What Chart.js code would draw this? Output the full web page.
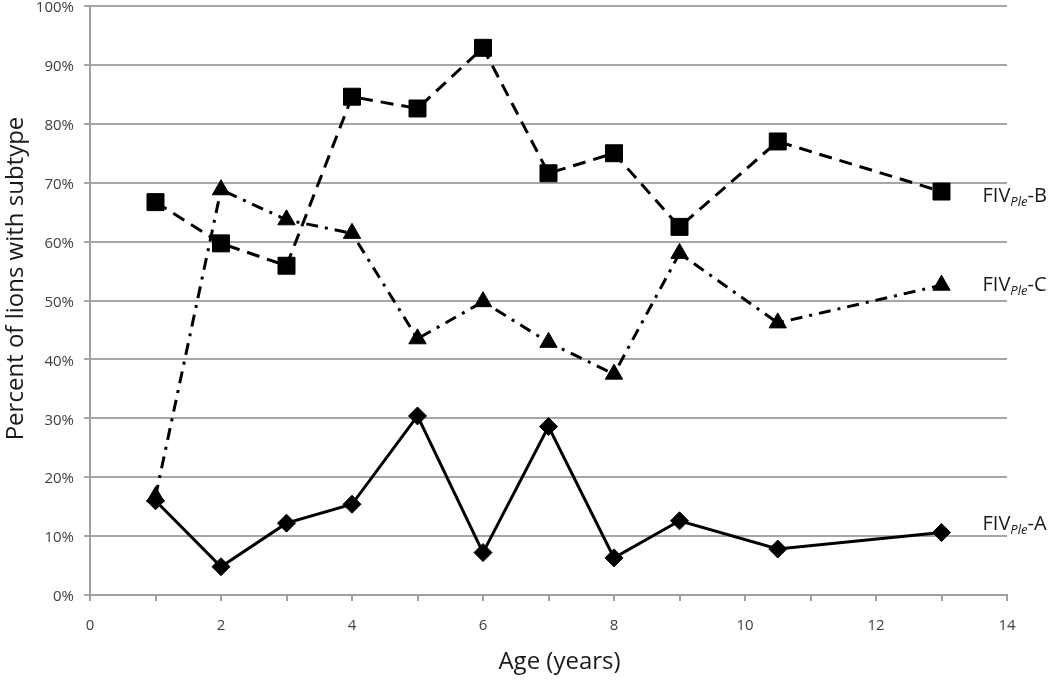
<!DOCTYPE html>
<html>
<head>
<meta charset="utf-8">
<script src="https://cdn.jsdelivr.net/npm/chart.js@4/dist/chart.umd.min.js"></script>
<style>
  body { margin: 0; background: #fff; }
  #wrap { width: 1050px; height: 683px; position: relative; }
</style>
</head>
<body>
<div id="wrap"><canvas id="myChart"></canvas></div>
<script>
// ages (years) and percent of lions with each subtype
var ages = [1, 2, 3, 4, 5, 6, 7, 8, 9, 10.5, 13];
var fivA = [16.0, 4.8, 12.2, 15.4, 30.4, 7.2, 28.6, 6.3, 12.6, 7.8, 10.6];
var fivB = [66.7, 59.7, 55.9, 84.6, 82.6, 92.9, 71.6, 75.0, 62.5, 77.0, 68.5];
var fivC = [16.7, 68.8, 63.7, 61.4, 43.5, 49.8, 42.9, 37.5, 58.0, 46.2, 52.6];
var seriesNames = ['A', 'B', 'C'];
var yTicks = [0, 10, 20, 30, 40, 50, 60, 70, 80, 90, 100];
var xTitle = 'Age (years)';
var yTitle = 'Percent of lions with subtype';

function toPoints(vals) {
    return vals.map(function (v, i) { return { x: ages[i], y: v }; });
}

// titles + FIVPle-X labels drawn by hand (subscript needs mixed fonts)
var labelPlugin = {
    id: 'labelPlugin',
    afterDraw: function (chart) {
        const c = chart.ctx;
        const a = chart.chartArea;
        c.save();
        c.fillStyle = '#1a1a1a';
        c.font = '24px "Open Sans"';
        c.textAlign = 'center';
        c.textBaseline = 'middle';
        c.fillText(xTitle, (a.left + a.right) / 2 + 11, a.bottom + 67);
        c.save();
        c.translate(16, (a.top + a.bottom) / 2 - 22);
        c.rotate(-Math.PI / 2);
        c.fillText(yTitle, 0, 0);
        c.restore();

        c.textAlign = 'left';
        const dy = [-8, 5, 0];
        chart.data.datasets.forEach(function (ds, i) {
            const meta = chart.getDatasetMeta(i);
            const pt = meta.data[meta.data.length - 1];
            let x = pt.x + 41;
            let y = pt.y + dy[i];
            c.font = '20px "Open Sans"';
            c.fillText('FIV', x, y);
            x += c.measureText('FIV').width;
            c.font = 'italic 13px "Open Sans"';
            c.fillText('Ple', x, y + 6);
            x += c.measureText('Ple').width;
            c.font = '20px "Open Sans"';
            c.fillText('-' + seriesNames[i], x, y);
        });
        c.restore();
    }
};

const ctx = document.getElementById('myChart');
const myChart = new Chart(ctx, {
    type: 'line',
    data: {
        datasets: [{
            label: 'FIVPle-A',
            data: toPoints(fivA),
            borderColor: '#000',
            backgroundColor: '#000',
            borderWidth: 3,
            pointStyle: 'rectRot',
            pointRadius: 9,
            pointBorderWidth: 1,
            tension: 0
        },
        {
            label: 'FIVPle-B',
            data: toPoints(fivB),
            borderColor: '#000',
            backgroundColor: '#000',
            borderWidth: 3,
            borderDash: [13, 8],
            pointStyle: 'rect',
            pointRadius: 12,
            pointBorderWidth: 1,
            tension: 0
        },
        {
            label: 'FIVPle-C',
            data: toPoints(fivC),
            borderColor: '#000',
            backgroundColor: '#000',
            borderWidth: 3,
            borderDash: [12, 7, 3, 7],
            pointStyle: 'triangle',
            pointRadius: 10,
            pointBorderWidth: 1,
            tension: 0
        }]
    },
    options: {
        responsive: true,
        maintainAspectRatio: false,
        animation: false,
        layout: { autoPadding: false, padding: { top: 6, right: 43, left: 0, bottom: 0 } },
        plugins: {
            legend: { display: false },
            tooltip: { enabled: false }
        },
        scales: {
            x: {
                type: 'linear',
                min: 0,
                max: 14,
                afterFit: function (s) { s.height = 88; s.paddingTop = 0; s.paddingBottom = 0; },
                ticks: {
                    stepSize: 1,
                    autoSkip: false,
                    maxRotation: 0,
                    padding: 16,
                    color: '#404040',
                    font: { family: 'Open Sans', size: 15 },
                    callback: function (v) { return v % 2 === 0 ? v : ''; }
                },
                grid: {
                    drawOnChartArea: false,
                    drawTicks: true,
                    tickLength: 6,
                    color: '#a0a0a0',
                    lineWidth: 2
                },
                border: { display: true, color: '#a0a0a0', width: 2 }
            },
            y: {
                min: 0,
                max: 100,
                afterFit: function (s) { s.width = 90; s.paddingTop = 0; s.paddingBottom = 0; },
                afterBuildTicks: function (s) {
                    s.ticks = yTicks.map(function (v) { return { value: v }; });
                },
                ticks: {
                    padding: 10,
                    labelOffset: 2,
                    color: '#404040',
                    font: { family: 'Open Sans', size: 15 },
                    callback: function (v) { return v + '%'; }
                },
                grid: {
                    color: '#a6a6a6',
                    lineWidth: 2,
                    tickLength: 6
                },
                border: { display: true, color: '#a0a0a0', width: 2 }
            }
        }
    },
    plugins: [labelPlugin]
});
</script>
</body>
</html>
